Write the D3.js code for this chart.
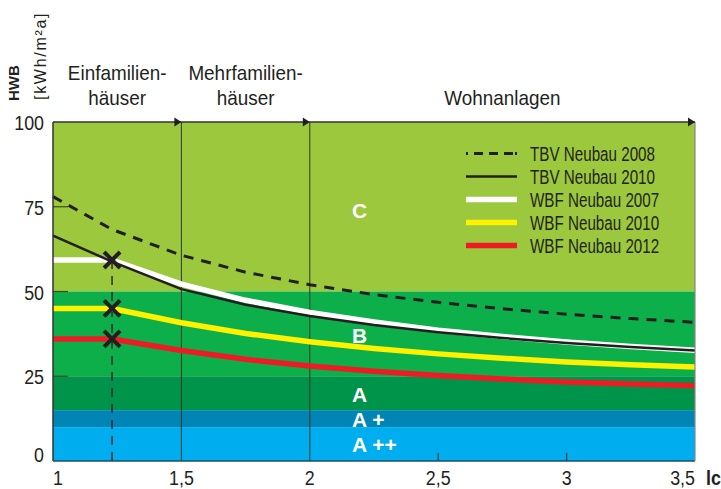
<!DOCTYPE html>
<html>
<head>
<meta charset="utf-8">
<script src="https://cdn.jsdelivr.net/npm/d3@7"></script>
<style>
  body { margin: 0; background: #fff; }
  svg { display: block; }
  text { fill: #231f20; font-family: "Liberation Sans", Arial, sans-serif; }
  .band-label { fill: #fff; font-weight: bold; }
</style>
</head>
<body>
<script>
var lcValues = [1, 1.23, 1.5, 1.75, 2, 2.25, 2.5, 2.75, 3, 3.25, 3.5];

// HWB values per series
var tbv2008 = [78, 68.3, 60.7, 55.7, 52, 49.1, 46.8, 44.9, 43.3, 42, 40.9];
var tbv2010 = [66.5, 58.8, 50.7, 46.1, 42.8, 40.1, 38, 36.3, 34.8, 33.6, 32.6];
var wbf2007 = [59.3, 59.3, 52.2, 47.4, 43.8, 41, 38.6, 36.7, 35.1, 33.8, 32.7];
var wbf2010 = [45, 45, 40.8, 37.6, 35.2, 33.2, 31.6, 30.3, 29.2, 28.4, 27.7];
var wbf2012 = [36, 36, 32.6, 30, 28, 26.5, 25.2, 24.2, 23.3, 22.7, 22.2];

var seriesNames = ["TBV Neubau 2008", "TBV Neubau 2010", "WBF Neubau 2007", "WBF Neubau 2010", "WBF Neubau 2012"];

// energy classes (upper / lower HWB bounds)
var bandNames = ["C", "B", "A", "A +", "A ++"];
var bandTop = [100, 50, 25, 15, 10];
var bandBottom = [50, 25, 15, 10, 0];
var bandLabelValue = [74, 37.2, 19.8, 12.4, 5];

// building types along the top
var sectionNames = [["Einfamilien-", "häuser"], ["Mehrfamilien-", "häuser"], ["Wohnanlagen"]];
var sectionStart = [1, 1.5, 2];
var sectionEnd = [1.5, 2, 3.5];

// limit points with markers
var markerLc = 1.23;
var markerValues = [59.3, 45, 36];

var xTicks = [1, 1.5, 2, 2.5, 3, 3.5];
var xTickLabels = ["1", "1,5", "2", "2,5", "3", "3,5"];
var yTicks = [0, 25, 50, 75, 100];

var width = 721, height = 489;

// horizontal squeeze to imitate the condensed typeface
var narrow = 0.85;

var svg = d3.select("body")
            .append("svg")
            .attr("width", width)
            .attr("height", height);

var x = d3.scaleLinear().domain([1, 3.5]).range([53, 695]);
var y = d3.scaleLinear().domain([0, 100]).range([461, 122]);

function place(px, py, s) {
  return "translate(" + px + "," + py + ") scale(" + s + ",1)";
}

// background bands
var bandColor = d3.scaleOrdinal()
                  .domain(bandNames)
                  .range(["#9bc83c", "#0daf4b", "#00934a", "#0085b4", "#00adee"]);

svg.append("g")
   .selectAll("rect")
   .data(bandNames)
   .enter()
   .append("rect")
   .attr("x", x(1))
   .attr("width", x(3.5) - x(1))
   .attr("y", function(d, i) { return y(bandTop[i]); })
   .attr("height", function(d, i) { return y(bandBottom[i]) - y(bandTop[i]); })
   .style("fill", function(d) { return bandColor(d); });

// inner tick marks
svg.append("g")
   .selectAll("line")
   .data([25, 50, 75])
   .enter()
   .append("line")
   .attr("x1", x(1))
   .attr("x2", x(1) + 15)
   .attr("y1", function(d) { return y(d); })
   .attr("y2", function(d) { return y(d); })
   .style("stroke", "#3d4a1c")
   .style("stroke-width", 1.2);

svg.append("g")
   .selectAll("line")
   .data([2.5, 3])
   .enter()
   .append("line")
   .attr("x1", function(d) { return x(d); })
   .attr("x2", function(d) { return x(d); })
   .attr("y1", y(0))
   .attr("y2", y(0) - 8)
   .style("stroke", "#1e3a4a")
   .style("stroke-width", 1.2);

// section dividers
svg.append("g")
   .selectAll("line")
   .data([1.5, 2])
   .enter()
   .append("line")
   .attr("x1", function(d) { return x(d); })
   .attr("x2", function(d) { return x(d); })
   .attr("y1", y(100))
   .attr("y2", y(0))
   .style("stroke", "#2a3a22")
   .style("stroke-width", 1);

// vertical dashed line through markers
svg.append("line")
   .attr("x1", x(markerLc))
   .attr("x2", x(markerLc))
   .attr("y1", y(markerValues[0]))
   .attr("y2", y(0))
   .style("stroke", "#2b2b2b")
   .style("stroke-width", 1.5)
   .style("stroke-dasharray", "9,7");

// curves
var line = d3.line()
             .x(function(d) { return x(d[0]); })
             .y(function(d) { return y(d[1]); });

var series = [
  {name: seriesNames[0], values: tbv2008, color: "#231f20", width: 3, dash: "10,8"},
  {name: seriesNames[2], values: wbf2007, color: "#ffffff", width: 5.5, dash: null},
  {name: seriesNames[1], values: tbv2010, color: "#231f20", width: 2.5, dash: null},
  {name: seriesNames[3], values: wbf2010, color: "#fff200", width: 5.5, dash: null},
  {name: seriesNames[4], values: wbf2012, color: "#ed1c24", width: 5.5, dash: null}
];

svg.append("g")
   .selectAll("path")
   .data(series)
   .enter()
   .append("path")
   .attr("d", function(s) {
     return line(lcValues.map(function(v, i) { return [v, s.values[i]]; }));
   })
   .style("fill", "none")
   .style("stroke", function(s) { return s.color; })
   .style("stroke-width", function(s) { return s.width; })
   .style("stroke-linejoin", "round")
   .style("stroke-dasharray", function(s) { return s.dash; });

// class letters sit on top of the curves
svg.append("g")
   .selectAll("text")
   .data(bandNames)
   .enter()
   .append("text")
   .attr("class", "band-label")
   .attr("x", 352)
   .attr("y", function(d, i) { return y(bandLabelValue[i]) + 8; })
   .style("font-size", "21px")
   .text(function(d) { return d; });

// X markers
var markers = svg.append("g")
                 .selectAll("g")
                 .data(markerValues)
                 .enter()
                 .append("g")
                 .attr("transform", function(d) {
                   return "translate(" + x(markerLc) + "," + y(d) + ")";
                 });

markers.append("path")
       .attr("d", "M-8,-8L8,8M-8,8L8,-8")
       .style("stroke", "#231f20")
       .style("stroke-width", 4)
       .style("fill", "none");

// frame
svg.append("line")
   .attr("x1", x(1)).attr("x2", x(1))
   .attr("y1", y(100)).attr("y2", y(0))
   .style("stroke", "#333").style("stroke-width", 1.5);
svg.append("line")
   .attr("x1", x(1)).attr("x2", x(3.5))
   .attr("y1", y(0)).attr("y2", y(0))
   .style("stroke", "#1d4f6a").style("stroke-width", 1.5);
svg.append("line")
   .attr("x1", x(3.5)).attr("x2", x(3.5))
   .attr("y1", y(100)).attr("y2", y(0))
   .style("stroke", "#888").style("stroke-width", 1.2);
svg.append("line")
   .attr("x1", x(1)).attr("x2", x(3.5))
   .attr("y1", y(100)).attr("y2", y(100))
   .style("stroke", "#333").style("stroke-width", 1.5);

// arrowheads at the end of each section
svg.append("g")
   .selectAll("path")
   .data(sectionEnd)
   .enter()
   .append("path")
   .attr("d", function(d) {
     var px = x(d), py = y(100);
     return "M" + px + "," + py + "L" + (px - 7) + "," + (py - 4.5) + "L" + (px - 7) + "," + (py + 4.5) + "Z";
   })
   .style("fill", "#231f20");

// section titles
var sections = svg.append("g")
                  .selectAll("g")
                  .data(sectionNames)
                  .enter()
                  .append("g")
                  .attr("transform", function(d, i) {
                    return "translate(" + x((sectionStart[i] + sectionEnd[i]) / 2) + "," + (d.length > 1 ? 80 : 105) + ")";
                  });

sections.selectAll("text")
        .data(function(d) { return d; })
        .enter()
        .append("text")
        .attr("text-anchor", "middle")
        .attr("transform", function(d, i) { return place(0, i * 25, 0.9); })
        .style("font-size", "21px")
        .text(function(d) { return d; });

// axis labels
svg.append("g")
   .selectAll("text")
   .data(xTicks)
   .enter()
   .append("text")
   .attr("transform", function(d) { return place(x(d), 485, narrow); })
   .attr("text-anchor", function(d, i) {
     return i === 0 ? "start" : (i === xTicks.length - 1 ? "end" : "middle");
   })
   .style("font-size", "21px")
   .text(function(d, i) { return xTickLabels[i]; });

svg.append("text")
   .attr("transform", place(706, 485, narrow))
   .style("font-size", "21px")
   .style("font-weight", "bold")
   .text("lc");

svg.append("g")
   .selectAll("text")
   .data(yTicks)
   .enter()
   .append("text")
   .attr("transform", function(d) { return place(44, Math.min(y(d) + 8, 462), narrow); })
   .attr("text-anchor", "end")
   .style("font-size", "21px")
   .text(function(d) { return d; });

svg.append("text")
   .attr("transform", "translate(19,101) rotate(-90)")
   .style("font-weight", "bold")
   .style("font-size", "15px")
   .text("HWB");

svg.append("text")
   .attr("transform", "translate(46,100) rotate(-90)")
   .style("font-size", "16px")
   .style("letter-spacing", "1.7px")
   .text("[kWh/m²a]");

// legend
var legend = svg.selectAll(".legend")
                .data(seriesNames)
                .enter()
                .append("g")
                .attr("class", "legend")
                .attr("transform", function(d, i) {
                  return "translate(466," + (153.5 + i * 23) + ")";
                });

var legendStyle = {};
series.forEach(function(s) { legendStyle[s.name] = s; });

legend.append("line")
      .attr("x1", 0)
      .attr("x2", 51)
      .style("stroke", function(d) { return legendStyle[d].color; })
      .style("stroke-width", function(d) { return legendStyle[d].width; })
      .style("stroke-dasharray", function(d) { return legendStyle[d].dash ? "2,6,9,6,9,6,9" : null; });

legend.append("text")
      .attr("transform", place(64, 7, 0.78))
      .style("font-size", "19.5px")
      .text(function(d) { return d; });
</script>
</body>
</html>
